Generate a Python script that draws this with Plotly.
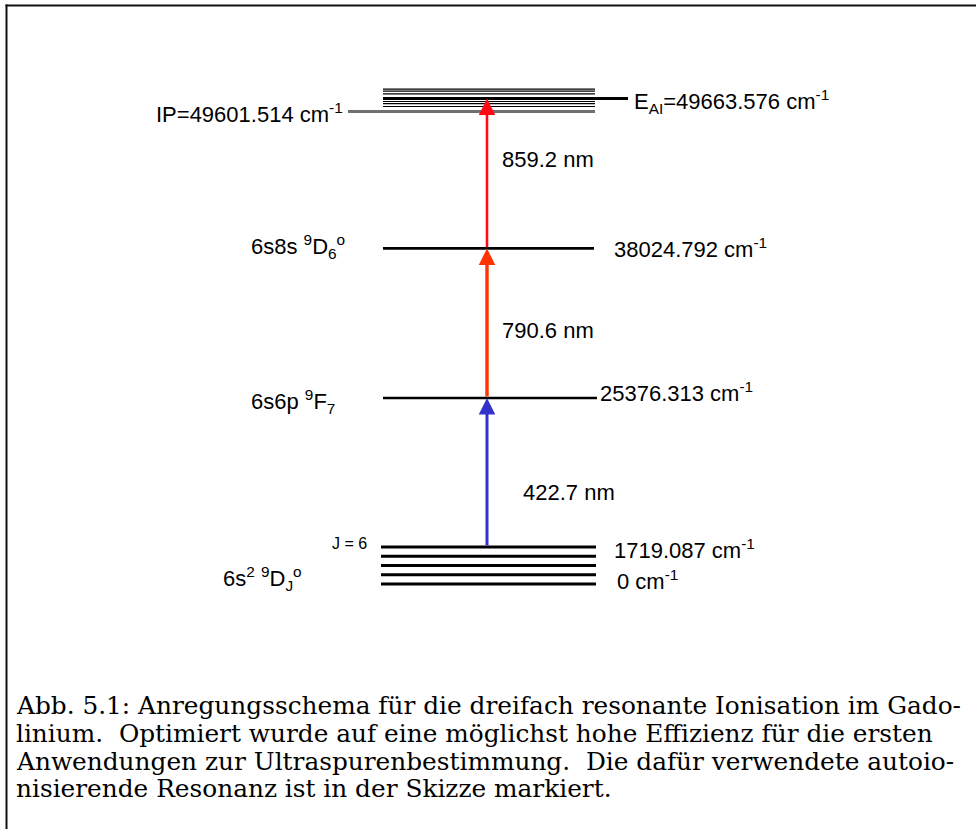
import numpy as np
import plotly.graph_objects as go

# ---- Gadolinium excitation scheme (energies in cm^-1) ----
ground_J = [2, 3, 4, 5, 6]
ground_energy_low = 0.0          # lowest fine-structure level
ground_energy_high = 1719.087    # J = 6 level
step_names = ["6s6p <sup>9</sup>F<sub>7</sub>", "6s8s <sup>9</sup>D<sub>6</sub><sup>o</sup>"]
step_energy = [25376.313, 38024.792]
ip_energy = 49601.514
ai_energy = 49663.576
wavelength_nm = [422.7, 790.6, 859.2]
ground_name = "6s<sup>2</sup> <sup>9</sup>D<sub>J</sub><sup>o</sup>"

# Broken (sketch) energy scale: the ground multiplet and the autoionising
# resonance are expanded, the rest is drawn roughly to scale.
scale_energy = [ground_energy_low, ground_energy_high, step_energy[0], ip_energy, ai_energy]
scale_height = [245.0, 282.0, 431.0, 717.5, 730.5]


def h(e):
    return float(np.interp(e, scale_energy, scale_height))


SANS = "Liberation Sans, Arial, sans-serif"
SERIF = "DejaVu Serif, serif"
FS = 22

fig = go.Figure()


def level(x0, x1, y, color="black", width=2.6):
    fig.add_trace(go.Scatter(x=[x0, x1], y=[y, y], mode="lines",
                             line=dict(color=color, width=width),
                             hoverinfo="skip", showlegend=False))


# ground multiplet (J = 2 ... 6)
g_heights = np.linspace(h(ground_energy_low), h(ground_energy_high), len(ground_J))
for gy in g_heights:
    level(381, 596, gy, width=3.2)

# intermediate levels
level(383, 597, h(step_energy[0]), width=2.6)
level(383, 594, h(step_energy[1]), width=2.6)

# ionisation potential and autoionising resonance
level(348, 595, h(ip_energy), color="#707070", width=3.2)
for off in [9.4, 7.4, 4.7, -3.0, -5.1, -8.0]:
    level(383, 595, h(ai_energy) + off, width=1.2)
level(383, 628, h(ai_energy), width=2.8)

annotations = []

# excitation steps
lower = [ground_energy_high, step_energy[0], step_energy[1]]
upper = [step_energy[0], step_energy[1], ai_energy]
colors = ["#3333cc", "#ff3300", "#ff0a14"]
widths = [3.0, 3.4, 2.6]
for lo, up, col, w in zip(lower, upper, colors, widths):
    annotations.append(dict(x=487, y=h(up), ax=487, ay=h(lo), xref="x", yref="y",
                            axref="x", ayref="y", text="", showarrow=True,
                            arrowhead=2, arrowsize=16.5 / (5 * w), arrowwidth=w,
                            arrowcolor=col, standoff=0, startstandoff=0))

# wavelength labels
wl_x = [521, 500, 500]
wl_shift = [55, 68, 88.5]
for wl, lo, x, s in zip(wavelength_nm, lower, wl_x, wl_shift):
    annotations.append(dict(x=x, y=h(lo), xref="x", yref="y", text=f"{wl} nm",
                            showarrow=False, xanchor="left", yanchor="middle",
                            yshift=s, font=dict(family=SANS, size=FS, color="black")))


def label(x, y, text, anchor="left", shift=0, size=FS):
    annotations.append(dict(x=x, y=y, xref="x", yref="y", text=text, showarrow=False,
                            xanchor=anchor, yanchor="middle", yshift=shift,
                            font=dict(family=SANS, size=size, color="black")))


label(345, h(ip_energy), f"IP={ip_energy:.3f} cm<sup>-1</sup>", anchor="right", shift=-1)
label(632, h(ai_energy), f"E<sub>AI</sub>={ai_energy:.3f} cm<sup>-1</sup>", shift=-3)
label(249, h(step_energy[1]), step_names[1], shift=2)
label(612, h(step_energy[1]), f"{step_energy[1]:.3f} cm<sup>-1</sup>", shift=0)
label(249, h(step_energy[0]), step_names[0], shift=-3)
label(598, h(step_energy[0]), f"{step_energy[0]:.3f} cm<sup>-1</sup>", shift=6)
label(612, h(ground_energy_high), f"{ground_energy_high:.3f} cm<sup>-1</sup>", shift=-2)
label(615, h(ground_energy_low), f"{ground_energy_low:.0f} cm<sup>-1</sup>", shift=4)
label(330, h(ground_energy_high), f"J = {ground_J[-1]}", shift=4, size=16)
label(221, h(ground_energy_high), ground_name, shift=-31)

# figure caption
caption = [
    "Abb. 5.1: Anregungsschema für die dreifach resonante Ionisation im Gado-",
    "linium.  Optimiert wurde auf eine möglichst hohe Effizienz für die ersten",
    "Anwendungen zur Ultraspurenbestimmung.  Die dafür verwendete autoio-",
    "nisierende Resonanz ist in der Skizze markiert.",
]
for i, line in enumerate(caption):
    annotations.append(dict(x=14, y=829 - 705.5 - 27.8 * i, xref="x", yref="y", text=line,
                            showarrow=False, xanchor="left", yanchor="middle",
                            font=dict(family=SERIF, size=24.8, color="black")))

# page frame
shapes = [
    dict(type="line", x0=5.5, x1=976, y0=829 - 5.5, y1=829 - 5.5, xref="x", yref="y",
         line=dict(color="#111111", width=2)),
    dict(type="line", x0=6.5, x1=6.5, y0=0, y1=829 - 4.5, xref="x", yref="y",
         line=dict(color="#111111", width=2)),
]

fig.update_layout(
    width=976, height=829, margin=dict(l=0, r=0, t=0, b=0),
    paper_bgcolor="white", plot_bgcolor="white",
    xaxis=dict(range=[0, 976], visible=False, fixedrange=True),
    yaxis=dict(range=[0, 829], visible=False, fixedrange=True),
    annotations=annotations, shapes=shapes, showlegend=False,
)

fig.write_html("out.html")
